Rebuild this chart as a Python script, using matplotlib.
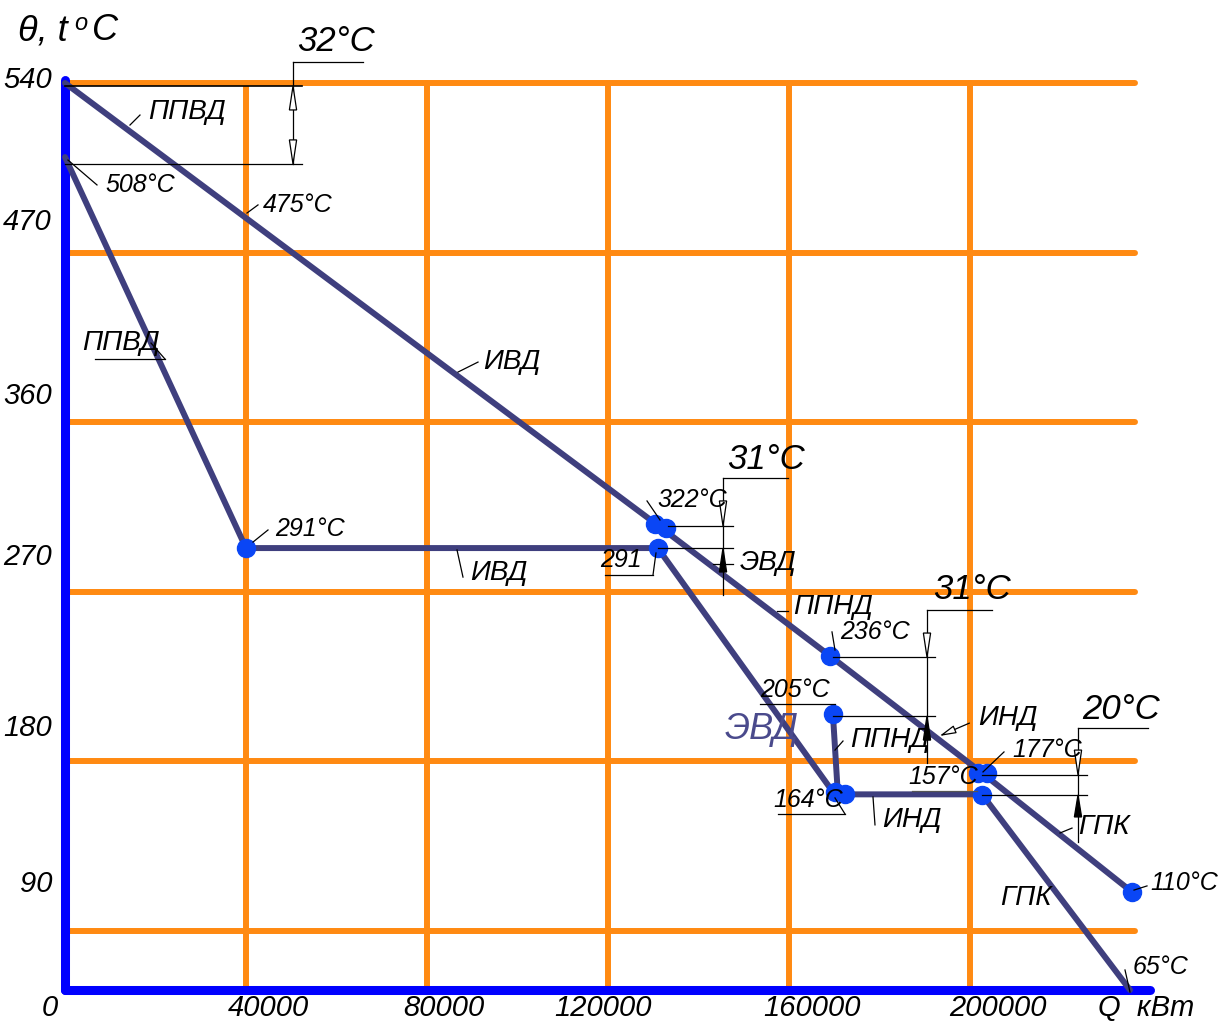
import matplotlib
matplotlib.use('Agg')
import matplotlib.pyplot as plt
from matplotlib.patches import Polygon

plt.rcParams['font.family'] = ['Liberation Sans Narrow', 'Liberation Sans', 'DejaVu Sans']

# ---- data (Q in kW, temperature in deg C) ----
x_grid = [40000, 80000, 120000, 160000, 200000]
y_grid = [540, 450, 360, 270, 180, 90]
x_tick_labels = ['0', '40000', '80000', '120000', '160000', '200000']
y_tick_labels = ['540', '470', '360', '270', '180', '90', '0']

# gas line
gas_q = [0, 131500, 169100, 202700, 235800]
gas_t = [540, 304.4, 235.9, 173.8, 110.7]

# HP steam / water line (ППВД - ИВД - ЭВД)
hp_q = [0, 40000, 131000, 169700]
hp_t = [500.7, 293.2, 293.2, 163.8]

# LP steam / water line (ППНД - ИНД - ГПК)
lp_q = [169700, 170800, 202650, 235350]
lp_t = [205.1, 162.5, 162.5, 58.7]

# node points
dot_q = [40000, 130400, 132800, 131000, 169100, 169700, 170200, 172400, 201800, 203800, 202650, 235800]
dot_t = [293.2, 306.0, 304.0, 293.2, 235.9, 205.1, 163.8, 162.8, 173.8, 173.8, 162.2, 110.7]

T_BOTTOM = 58.7
Q_GRID_END = 236460
Q_AXIS_END = 239770

ORANGE = '#ff8a12'
BLUE = '#0000ff'
NAVY = '#3f3f7e'
DOT = '#0a46f5'

fig = plt.figure(figsize=(12.27, 10.25), dpi=100)
ax = fig.add_axes([0, 0, 1, 1])
ax.set_xlim(-14365, 256790)
ax.set_ylim(40.1, 584.05)
ax.axis('off')

# grid
for q in x_grid:
    ax.plot([q, q], [T_BOTTOM, 540], color=ORANGE, lw=4.3, solid_capstyle='round', zorder=1)
for t in y_grid:
    ax.plot([0, Q_GRID_END], [t, t], color=ORANGE, lw=4.3, solid_capstyle='round', zorder=1)

# axes
ax.plot([0, 0], [541.6, T_BOTTOM], color=BLUE, lw=6.5, solid_capstyle='round', zorder=3)
ax.plot([0, Q_AXIS_END], [T_BOTTOM, T_BOTTOM], color=BLUE, lw=6.5, solid_capstyle='round', zorder=3)

# process lines
ax.plot(gas_q, gas_t, color=NAVY, lw=4.3, solid_capstyle='round', zorder=4)
ax.plot(hp_q, hp_t, color=NAVY, lw=4.3, solid_capstyle='round', zorder=4)
ax.plot(lp_q, lp_t, color=NAVY, lw=4.3, solid_capstyle='round', zorder=4)
ax.plot(dot_q, dot_t, 'o', color=DOT, ms=13, mec=DOT, zorder=5)

# tick labels
TK = dict(fontsize=21, style='italic', color='black', va='center')
x_tick_pos = [-3300, 44860, 83755, 118900, 165080, 206180]
for q, lab in zip(x_tick_pos, x_tick_labels):
    ax.text(q, 49.1, lab, ha='center', **TK)
ax.text(238890, 49.1, 'Q  кВт', ha='center', **TK)
y_tick_pos = [541.6, 466.2, 373.9, 288.5, 197.7, 114.9]
for t, lab in zip(y_tick_pos, y_tick_labels[:-1]):
    ax.text(-2870, t, lab, ha='right', **TK)

# axis title
ax.text(-10390, 567.6, 'θ, t', fontsize=26, style='italic', ha='left', va='center')
ax.text(1990, 571.5, 'o', fontsize=17, style='italic', ha='left', va='center')
ax.text(5970, 567.6, 'C', fontsize=26, style='italic', ha='left', va='center')


def thin(qs, ts, lw=0.9, color='black'):
    ax.plot(qs, ts, color=color, lw=lw, zorder=6)


def label(q, t, s, size=18, color='black'):
    ax.text(q, t, s, fontsize=size, style='italic', color=color, ha='left', va='center', zorder=7)


def head(q, tip, base, filled):
    w = 800
    ax.add_patch(Polygon([[q, tip], [q - w, base], [q + w, base]], closed=True,
                         fc='black' if filled else 'white', ec='black', lw=0.9, zorder=7))


# dimension 32 C
thin([0, 52375], [538.4, 538.4], lw=1.2)
thin([0, 52375], [497.0, 497.0])
thin([50386, 50386], [551.1, 497.0])
thin([50386, 65855], [551.1, 551.1])
head(50386, 538.4, 525.7, False)
head(50386, 497.0, 509.8, False)
label(51270, 561.8, '32°C', size=25)

# dimension 31 C (HP)
thin([145410, 145410], [330.4, 268.3])
thin([145410, 159776], [330.4, 330.4])
thin([133257, 147620], [304.9, 304.9])
thin([131047, 147620], [293.2, 293.2])
head(145410, 304.9, 318.2, False)
head(145410, 293.2, 280.5, True)
thin([143200, 147620], [284.8, 284.8])
label(146300, 340.0, '31°C', size=25)
label(149170, 285.3, 'ЭВД', size=20)

# dimension 31 C (LP)
thin([190490, 190490], [260.3, 179.1])
thin([190490, 204860], [260.3, 260.3])
thin([169720, 192260], [235.4, 235.4])
thin([169720, 192260], [204.1, 204.1])
head(190490, 235.4, 248.1, False)
head(190490, 204.1, 191.3, True)
label(191820, 271.0, '31°C', size=25)

# dimension 20 C
thin([223860, 223860], [197.7, 137.2])
thin([223860, 239330], [197.7, 197.7])
thin([202650, 225850], [172.8, 172.8])
thin([202650, 225850], [162.2, 162.2])
head(223860, 172.8, 186.0, False)
head(223860, 162.2, 150.5, True)
label(224750, 207.3, '20°C', size=25)

# point and section labels with leaders
label(18340, 524.6, 'ППВД', size=20)
thin([14360, 16570], [517.7, 523.0])
label(8840, 485.9, '508°C')
thin([660, 7070], [499.1, 485.9])
label(43760, 475.3, '475°C')
thin([40220, 42650], [471.0, 475.3])
label(92370, 391.9, 'ИВД', size=20)
thin([86850, 91270], [386.6, 391.9])
label(3760, 402.0, 'ППВД', size=20)
thin([6630, 22100], [393.5, 393.5])
thin([19005, 22100], [402.0, 393.5])
label(46410, 303.3, '291°C')
thin([41550, 44860], [296.4, 302.8])
label(89500, 280.0, 'ИВД', size=20)
thin([86630, 87950], [292.2, 277.8])
label(130830, 318.7, '322°C')
thin([128620, 131490], [318.2, 308.1])
label(118230, 286.9, '291')
thin([119335, 129940], [278.9, 278.9])
thin([129940, 130600], [278.9, 290.6])
label(160880, 261.9, 'ППНД', size=20)
thin([157350, 159780], [259.8, 259.8])
label(171270, 248.7, '236°C')
thin([169500, 170160], [248.7, 239.1])
label(153590, 217.9, '205°C')
thin([153590, 170160], [210.6, 210.6])
label(145850, 196.7, 'ЭВД', size=26, color='#4a4a8c')
label(173480, 191.3, 'ППНД', size=20)
thin([171930, 170160], [190.8, 186.0])
label(201760, 203.0, 'ИНД', size=20)
ax.annotate('', xy=(192700, 192.9), xytext=(200440, 200.9),
            arrowprops=dict(arrowstyle='-|>,head_length=1.0,head_width=0.25',
                            fc='white', ec='black', lw=0.9), zorder=7)
label(186290, 171.7, '157°C')
thin([187180, 201550], [164.3, 164.3], color='#555555')
label(156460, 159.5, '164°C')
thin([157560, 172370], [152.1, 152.1])
thin([172370, 170160], [152.1, 160.6])
label(180550, 148.9, 'ИНД', size=20)
thin([178560, 179000], [161.1, 146.3])
label(209280, 186.0, '177°C')
thin([207510, 202870], [185.0, 174.4])
label(223860, 145.2, 'ГПК', size=20)
thin([219890, 222540], [142.0, 144.6])
label(239800, 115.5, '110°C')
thin([236240, 239110], [111.7, 113.9])
label(206630, 107.5, 'ГПК', size=20)
label(236020, 70.9, '65°C')
thin([234250, 235350], [69.3, 57.6])

fig.savefig('out.png', dpi=100)
